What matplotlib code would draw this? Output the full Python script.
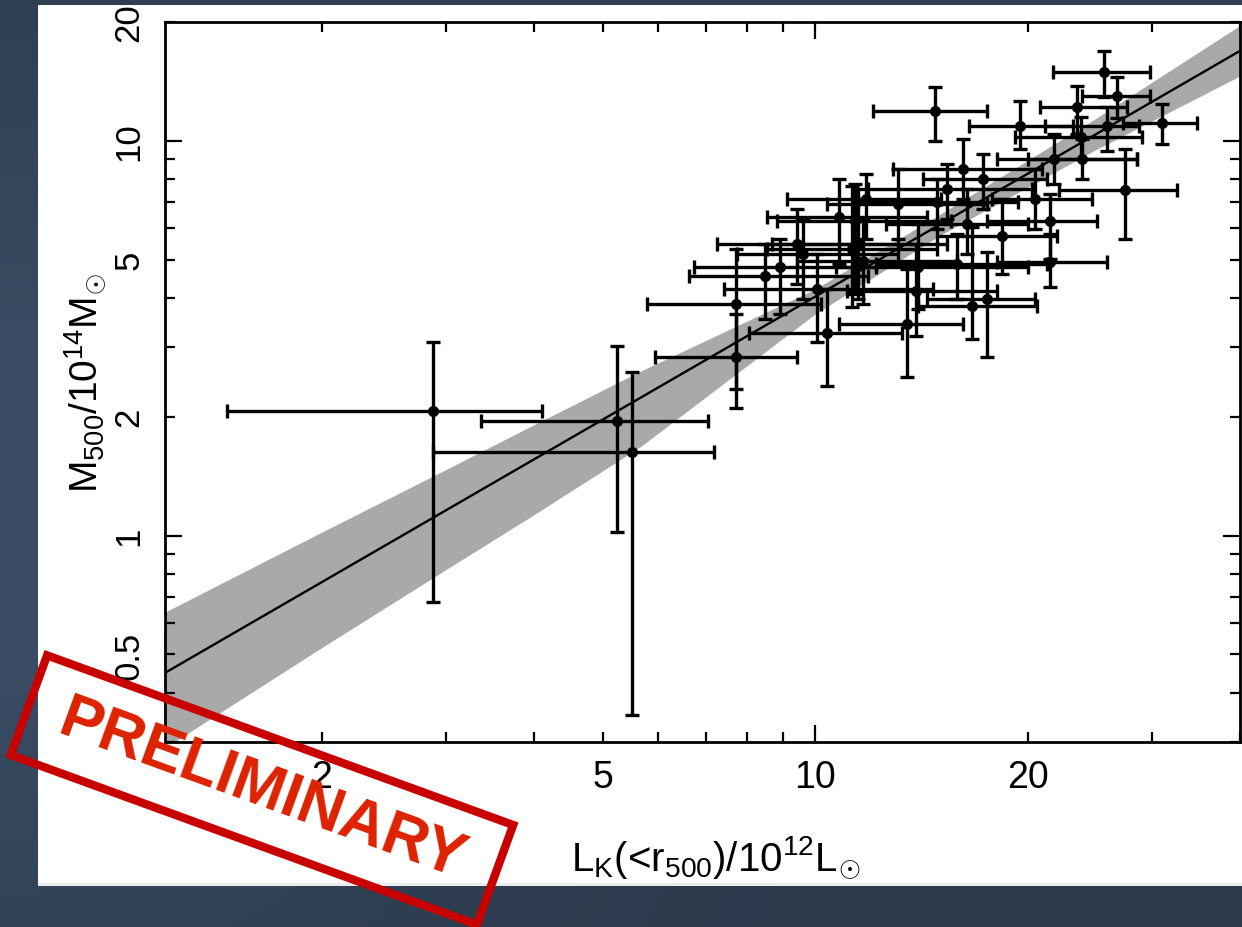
import numpy as np
import matplotlib
matplotlib.use("Agg")
import matplotlib.pyplot as pp
from matplotlib import ticker, patches, transforms

# K-band luminosity (10^12 Lsun): value, lower end, upper end of error bar
L_K  = [2.88, 5.24, 5.50, 7.73, 7.73, 10.4, 8.49, 8.92, 9.61, 10.07, 11.4, 11.5, 11.7,
        13.5, 13.9, 14.0, 15.4, 16.2, 16.7, 17.5, 18.4, 14.8, 19.5, 20.5, 21.5, 21.5,
        21.8, 23.5, 23.8, 25.7, 25.9, 26.8, 31.0, 27.5, 23.9, 16.4, 13.1, 10.8, 9.43,
        15.9, 17.3, 11.8, 11.3, 14.9]
L_LO = [1.47, 3.36, 2.88, 5.93, 5.78, 8.05, 6.62, 6.73, 7.75, 7.43, 8.83, 8.69, 9.43,
        10.8, 11.1, 10.7, 11.9, 12.9, 14.0, 14.4, 14.9, 12.1, 16.5, 17.8, 17.5, 18.1,
        18.1, 20.8, 19.2, 21.7, 21.2, 23.9, 27.3, 22.2, 20.0, 12.6, 10.4, 8.55, 7.26,
        12.2, 14.2, 9.12, 8.55, 11.5]
L_HI = [4.10, 7.05, 7.19, 9.43, 10.2, 13.3, 11.9, 12.2, 13.1, 14.7, 15.6, 15.4, 15.9,
        16.2, 18.1, 20.0, 20.3, 21.0, 20.6, 20.5, 22.0, 17.5, 23.2, 24.7, 25.1, 25.9,
        28.6, 27.7, 29.1, 29.8, 28.8, 29.8, 34.8, 32.6, 28.6, 20.0, 17.5, 14.4, 13.1,
        21.3, 21.3, 15.1, 14.9, 19.4]
# M500 (10^14 Msun): value, lower end, upper end of error bar
M500 = [2.07, 1.95, 1.63, 2.83, 3.86, 3.26, 4.54, 4.79, 5.17, 4.21, 6.27, 5.48, 4.96,
        3.43, 4.16, 4.79, 7.55, 8.49, 3.81, 3.97, 5.74, 11.9, 10.9, 7.12, 6.27, 4.93,
        9.00, 12.2, 10.2, 14.9, 10.9, 13.0, 11.1, 7.51, 9.00, 6.15, 6.92, 6.41, 5.48,
        4.87, 8.01, 7.12, 5.32, 7.00]
M_LO = [0.68, 1.02, 0.351, 2.11, 2.35, 2.39, 3.53, 3.64, 3.97, 3.09, 4.09, 3.97, 3.86,
        2.52, 3.20, 3.75, 6.34, 7.12, 3.14, 2.83, 4.59, 10.0, 9.55, 5.98, 5.02, 4.26,
        7.78, 10.4, 9.00, 12.9, 9.43, 11.4, 9.83, 5.64, 8.01, 5.17, 5.64, 4.87, 4.34,
        3.97, 6.72, 5.64, 3.79, 5.98]
M_HI = [3.10, 3.03, 2.59, 3.64, 5.32, 4.21, 5.48, 5.64, 6.34, 5.17, 7.78, 7.55, 6.34,
        4.73, 5.48, 6.15, 8.75, 10.1, 6.05, 5.23, 7.12, 13.7, 12.6, 8.49, 7.33, 5.81,
        10.4, 13.8, 11.5, 16.9, 12.2, 14.5, 12.4, 9.55, 10.1, 7.55, 8.49, 8.01, 6.72,
        5.81, 9.27, 8.25, 7.69, 8.01]

# best fit relation and its uncertainty band
FIT_L   = [1.2, 40.0]
FIT_M   = [0.449, 16.9]
BAND_L  = [1.2, 2.0, 3.0, 4.0, 5.66, 10.0, 15.0, 25.0, 40.0]
BAND_HI = [0.64, 1.02, 1.47, 1.91, 2.61, 4.21, 6.5, 11.4, 19.6]
BAND_LO = [0.29, 0.52, 0.82, 1.13, 1.68, 3.64, 5.75, 9.5, 14.6]

X_TICKS = [2, 5, 10, 20]
Y_TICKS = [0.5, 1, 2, 5, 10, 20]

W, H = 1242, 928
pp.rcParams['font.family'] = ['Liberation Sans', 'DejaVu Sans']
pp.rcParams['mathtext.fontset'] = 'custom'
pp.rcParams['mathtext.rm'] = 'Liberation Sans'
pp.rcParams['mathtext.it'] = 'Liberation Sans'

fig = pp.figure(figsize=(W / 100, H / 100), dpi=100, facecolor='#2e3d50')

# slide background
bg = fig.add_axes([0, 0, 1, 1], zorder=-5)
yy, xx = np.mgrid[0:1:200j, 0:1:200j]
glow = np.exp(-((xx - 0.0) ** 2 / 0.15 + (yy - 0.55) ** 2 / 0.25))
c0 = np.array([0x2b, 0x3a, 0x4b]) / 255
c1 = np.array([0x3b, 0x4e, 0x66]) / 255
bg.imshow(c0 + (c1 - c0) * glow[..., None], aspect='auto', extent=[0, 1, 0, 1])
bg.axis('off')

panel = patches.Rectangle((38 / W, 41 / H), 1 - 38 / W, (887 - 6) / H,
                          transform=fig.transFigure, facecolor='white',
                          edgecolor='none', zorder=-4)
fig.add_artist(panel)
edge = patches.Rectangle((38 / W, 41 / H), 1 - 38 / W, 3 / H,
                         transform=fig.transFigure, facecolor='#ececec',
                         edgecolor='none', zorder=-3)
fig.add_artist(edge)

ax = fig.add_axes([165 / W, 185 / H, 1075 / W, 720 / H])
ax.set_xscale('log')
ax.set_yscale('log')
ax.set_xlim(1.2, 40)
ax.set_ylim(0.3, 20)

ax.fill_between(BAND_L, BAND_LO, BAND_HI, color='#a9a9a9', lw=0, zorder=1)
ax.plot(FIT_L, FIT_M, color='black', lw=1.7, zorder=2)

x = np.array(L_K)
y = np.array(M500)
xerr = [x - np.array(L_LO), np.array(L_HI) - x]
yerr = [y - np.array(M_LO), np.array(M_HI) - y]
ax.errorbar(x, y, xerr=xerr, yerr=yerr, fmt='o', color='black', ms=7,
            elinewidth=2.4, capsize=5, capthick=2.4, zorder=3)

def lbl(v, pos):
    for t in X_TICKS + Y_TICKS:
        if abs(v - t) < 1e-6 * t:
            return '%g' % t
    return ''

for axis in (ax.xaxis, ax.yaxis):
    axis.set_major_locator(ticker.LogLocator(base=10, numticks=10))
    axis.set_minor_locator(ticker.LogLocator(base=10, subs=np.arange(2, 10), numticks=20))
    axis.set_major_formatter(ticker.FuncFormatter(lbl))
    axis.set_minor_formatter(ticker.FuncFormatter(lbl))

ax.tick_params(which='both', direction='in', top=True, right=True,
               width=1.6, colors='black')
ax.tick_params(which='major', length=12)
ax.tick_params(which='minor', length=7)
ax.tick_params(axis='x', which='both', pad=12, labelsize=27)
ax.tick_params(axis='y', which='both', pad=14, labelsize=25, labelrotation=90)
for lab in ax.get_yticklabels(which='both'):
    lab.set_verticalalignment('center')
for s in ax.spines.values():
    s.set_linewidth(2)

ax.set_xlabel(r'L$_\mathrm{K}$(<r$_\mathrm{500}$)/10$^\mathrm{12}$L$_{\!\odot}$', fontsize=29)
ax.set_ylabel(r'M$_\mathrm{500}$/10$^\mathrm{14}$M$_{\!\odot}$', fontsize=28)
ax.xaxis.label.set_verticalalignment('center')
ax.yaxis.label.set_verticalalignment('center')
ax.xaxis.set_label_coords(0.512, -0.16)
ax.yaxis.set_label_coords(-0.074, 0.5)

# dark strip at top of slide, over the clipped "20"
fig.add_artist(patches.Rectangle((0, 1 - 6 / H), 1, 6 / H, transform=fig.transFigure,
                                 facecolor='#2f3e51', edgecolor='none', zorder=10))

# PRELIMINARY stamp
cx, cy = 262, H - 791
rot = transforms.Affine2D().rotate_deg_around(cx, cy, -20)
stamp = patches.Rectangle((cx - 248, cy - 53), 496, 106, fill=False,
                          edgecolor='#c80000', lw=6, transform=rot, zorder=11)
fig.add_artist(stamp)
fig.text(cx / W, cy / H, 'PRELIMINARY', rotation=-20, rotation_mode='anchor',
         ha='center', va='center', color='#dd2200', fontsize=45,
         fontweight='bold', zorder=12)

fig.savefig('out.png', dpi=100, facecolor=fig.get_facecolor())
